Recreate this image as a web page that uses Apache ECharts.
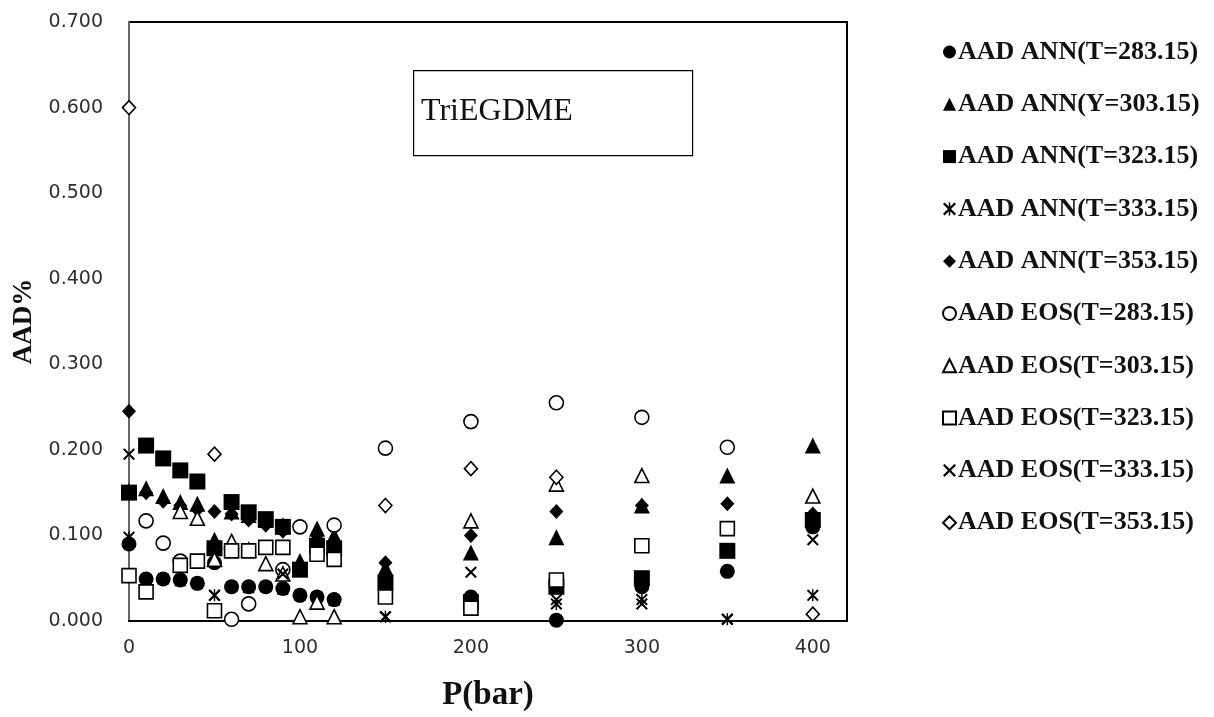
<!DOCTYPE html>
<html>
<head>
<meta charset="utf-8">
<script src="https://cdn.jsdelivr.net/npm/echarts@6/dist/echarts.min.js"></script>
<style>
  html, body { margin: 0; padding: 0; background: #fff; }
  #chart { width: 1214px; height: 717px; }
</style>
</head>
<body>
<div id="chart"></div>
<script>
// Pressure points (bar)
const pressure = [0, 10, 20, 30, 40, 50, 60, 70, 80, 90, 100, 110, 120, 150, 200, 250, 300, 350, 400];

// AAD% values per temperature, ANN model
const annT283 = [0.090, 0.049, 0.049, 0.048, 0.044, 0.068, 0.040, 0.040, 0.040, 0.038, 0.030, 0.028, 0.025, 0.048, 0.028, 0.001, 0.040, 0.058, 0.110];
const annT303 = [0.152, 0.155, 0.146, 0.139, 0.137, 0.095, 0.128, 0.124, 0.118, 0.112, 0.070, 0.108, 0.100, 0.062, 0.080, 0.098, 0.135, 0.170, 0.205];
const annT323 = [0.150, 0.205, 0.190, 0.176, 0.163, 0.085, 0.139, 0.127, 0.119, 0.110, 0.060, 0.088, 0.085, 0.045, 0.022, 0.040, 0.050, 0.082, 0.118];
const annT333 = [0.098, 0.048, 0.049, 0.047, 0.044, 0.030, 0.040, 0.039, 0.040, 0.037, 0.030, 0.028, 0.024, 0.005, 0.015, 0.020, 0.025, 0.002, 0.030];
const annT353 = [0.245, 0.150, 0.140, 0.135, 0.130, 0.128, 0.125, 0.118, 0.112, 0.105, 0.065, 0.100, 0.110, 0.068, 0.100, 0.128, 0.135, 0.137, 0.125];

// AAD% values per temperature, EOS model
const eosT283 = [null, 0.117, 0.091, 0.070, null, null, 0.002, 0.020, null, 0.060, 0.110, null, 0.112, 0.202, 0.233, 0.255, 0.238, 0.203, null];
const eosT303 = [null, null, null, 0.128, 0.120, 0.072, 0.093, 0.083, 0.067, 0.055, 0.005, 0.022, 0.005, null, 0.117, 0.160, 0.170, null, 0.146];
const eosT323 = [0.053, 0.034, null, 0.065, 0.070, 0.012, 0.082, 0.082, 0.086, 0.086, null, 0.078, 0.072, 0.028, 0.015, 0.048, 0.088, 0.108, null];
const eosT333 = [0.195, null, null, null, null, 0.030, null, null, null, 0.055, null, null, null, 0.005, 0.057, 0.025, 0.020, 0.002, 0.095];
const eosT353 = [0.600, null, null, null, null, 0.195, null, null, null, null, null, null, null, 0.135, 0.178, 0.168, null, null, 0.008];

// Axis ticks
const xTicks = [0, 100, 200, 300, 400];
const yTicks = [0.0, 0.1, 0.2, 0.3, 0.4, 0.5, 0.6, 0.7];

// Marker shapes
const xShape = 'path://M0,1.2 L1.2,0 L5,3.8 L8.8,0 L10,1.2 L6.2,5 L10,8.8 L8.8,10 L5,6.2 L1.2,10 L0,8.8 L3.8,5 Z';
const starShape = xShape + ' M4.4,0 L5.6,0 L5.6,10 L4.4,10 Z';

const filled = { color: '#000', opacity: 1 };
const hollow = { color: '#fff', borderColor: '#000', borderWidth: 1.6, opacity: 1 };

function pts(vals) {
  const out = [];
  pressure.forEach((p, i) => { if (vals[i] !== null) out.push([p, vals[i]]); });
  return out;
}

const seriesDefs = [
  { name: 'AAD ANN(T=283.15)', vals: annT283, symbol: 'circle', size: 15, style: filled },
  { name: 'AAD ANN(Y=303.15)', vals: annT303, symbol: 'triangle', size: 16, style: filled },
  { name: 'AAD ANN(T=323.15)', vals: annT323, symbol: 'rect', size: 16, style: filled },
  { name: 'AAD ANN(T=333.15)', vals: annT333, symbol: starShape, size: 12, style: filled },
  { name: 'AAD ANN(T=353.15)', vals: annT353, symbol: 'diamond', size: [14, 15], style: filled },
  { name: 'AAD EOS(T=283.15)', vals: eosT283, symbol: 'circle', size: 14, style: hollow },
  { name: 'AAD EOS(T=303.15)', vals: eosT303, symbol: 'triangle', size: 14, style: hollow },
  { name: 'AAD EOS(T=323.15)', vals: eosT323, symbol: 'rect', size: 14, style: hollow },
  { name: 'AAD EOS(T=333.15)', vals: eosT333, symbol: xShape, size: 12, style: filled },
  { name: 'AAD EOS(T=353.15)', vals: eosT353, symbol: 'diamond', size: [13, 14], style: hollow }
];

const tickFont = { fontFamily: 'DejaVu Sans', fontSize: 19, color: '#2e2e2e' };

const chart = echarts.init(document.getElementById('chart'), null, { renderer: 'canvas' });
chart.setOption({
  animation: false,
  backgroundColor: '#fff',
  grid: {
    left: 129, right: 367, top: 22, bottom: 95,
    show: true, borderColor: '#000', borderWidth: 2, backgroundColor: 'transparent'
  },
  xAxis: {
    type: 'value',
    min: 0, max: 420, interval: 100,
    name: 'P(bar)',
    nameLocation: 'middle',
    nameGap: 58,
    nameTextStyle: { fontFamily: 'Liberation Serif', fontWeight: 'bold', fontSize: 33, color: '#111' },
    axisLine: { show: true, lineStyle: { color: '#000', width: 2 } },
    axisTick: { show: false },
    splitLine: { show: false },
    axisLabel: Object.assign({
      margin: 18,
      formatter: v => (xTicks.indexOf(v) >= 0 ? String(v) : '')
    }, tickFont)
  },
  yAxis: {
    type: 'value',
    min: 0, max: 0.7, interval: 0.1,
    name: 'AAD%',
    nameLocation: 'middle',
    nameRotate: 90,
    nameGap: 82,
    nameTextStyle: { fontFamily: 'Liberation Serif', fontWeight: 'bold', fontSize: 27, color: '#111' },
    axisLine: { show: true, lineStyle: { color: '#666', width: 2 } },
    axisTick: { show: false },
    splitLine: { show: false },
    axisLabel: Object.assign({
      margin: 26,
      formatter: v => {
        const hit = yTicks.find(t => Math.abs(t - v) < 1e-9);
        return hit === undefined ? '' : hit.toFixed(3);
      }
    }, tickFont)
  },
  legend: {
    orient: 'vertical',
    left: 937,
    top: 34,
    itemGap: 26.3,
    itemWidth: 13,
    itemHeight: 13,
    textStyle: { fontFamily: 'Liberation Serif', fontWeight: 'bold', fontSize: 26, color: '#111', padding: [0, 0, 0, -3] },
    data: seriesDefs.map(s => s.name)
  },
  graphic: [
    {
      type: 'rect',
      left: 413, top: 70,
      shape: { width: 279, height: 85 },
      style: { fill: '#fff', stroke: '#000', lineWidth: 1.2 },
      z: 1
    },
    {
      type: 'text',
      left: 421, top: 96,
      style: { text: 'TriEGDME', fontFamily: 'Liberation Serif', fontSize: 32, fill: '#111' },
      z: 2
    }
  ],
  series: seriesDefs.map(s => ({
    type: 'scatter',
    name: s.name,
    data: pts(s.vals),
    symbol: s.symbol,
    symbolSize: s.size,
    itemStyle: s.style,
    emphasis: { disabled: true },
    z: 3
  }))
});
</script>
</body>
</html>
